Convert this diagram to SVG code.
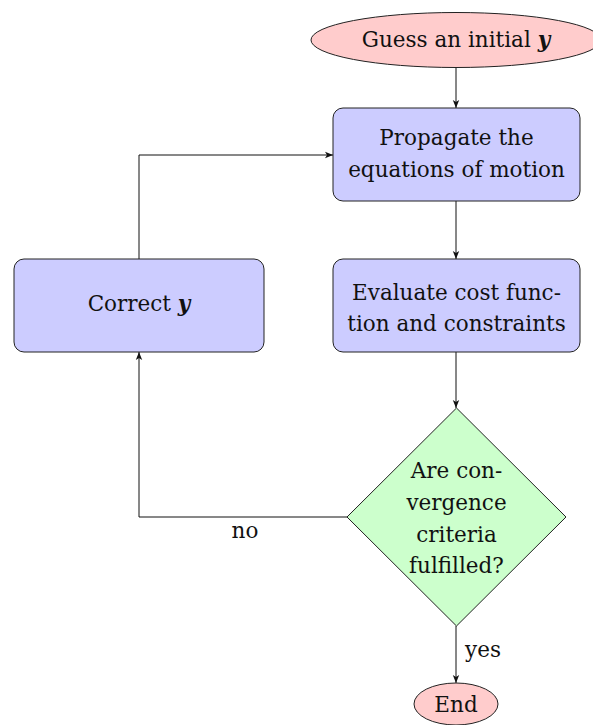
<svg xmlns="http://www.w3.org/2000/svg" width="593" height="725" viewBox="0 0 593 725">
<style>
  text { font-family: "DejaVu Serif", "Liberation Serif", serif; font-size: 21.5px; fill: #111; text-anchor: middle; }
  .b { font-weight: bold; font-style: italic; }
  .term { fill: #ffcccc; stroke: #222; stroke-width: 1; }
  .proc { fill: #ccccff; stroke: #222; stroke-width: 1; }
  .dec { fill: #ccffcc; stroke: #222; stroke-width: 1; }
  .edge { fill: none; stroke: #111; stroke-width: 1; marker-end: url(#arr); }
</style>
<defs>
  <marker id="arr" viewBox="0 0 10 10" refX="10" refY="5" markerWidth="8" markerHeight="8" markerUnits="userSpaceOnUse" orient="auto">
    <path d="M0,1 L10,5 L0,9 L2.5,5 Z" fill="#111"/>
  </marker>
</defs>
<g id="connectors">
  <path class="edge" d="M456,68 L456,108"/>
  <path class="edge" d="M456,201 L456,259"/>
  <path class="edge" d="M456,352 L456,408"/>
  <path class="edge" d="M347,517 L139,517 L139,352"/>
  <path class="edge" d="M139,259 L139,155 L333,155"/>
  <path class="edge" d="M456,626 L456,683"/>
  <text x="245" y="538">no</text>
  <text x="483" y="657">yes</text>
</g>
<g id="start">
  <ellipse class="term" cx="456" cy="40" rx="145" ry="27.5"/>
  <text x="456" y="47">Guess an initial <tspan class="b">y</tspan></text>
</g>
<g id="propagate">
  <rect class="proc" x="333" y="108" width="247" height="93" rx="10"/>
  <text x="456.5" y="145">Propagate the</text>
  <text x="456.5" y="177">equations of motion</text>
</g>
<g id="evaluate">
  <rect class="proc" x="333" y="259" width="247" height="93" rx="10"/>
  <text x="456.5" y="300">Evaluate cost func-</text>
  <text x="456.5" y="331">tion and constraints</text>
</g>
<g id="correct">
  <rect class="proc" x="14" y="259" width="250" height="93" rx="10"/>
  <text x="139" y="311">Correct <tspan class="b">y</tspan></text>
</g>
<g id="decision">
  <polygon class="dec" points="456.5,408 566,517 456.5,626 347,517"/>
  <text x="456.5" y="478">Are con-</text>
  <text x="456.5" y="510">vergence</text>
  <text x="456.5" y="542">criteria</text>
  <text x="456.5" y="573">fulfilled?</text>
</g>
<g id="end">
  <ellipse class="term" cx="456" cy="704" rx="42" ry="21"/>
  <text x="456" y="712">End</text>
</g>
</svg>
